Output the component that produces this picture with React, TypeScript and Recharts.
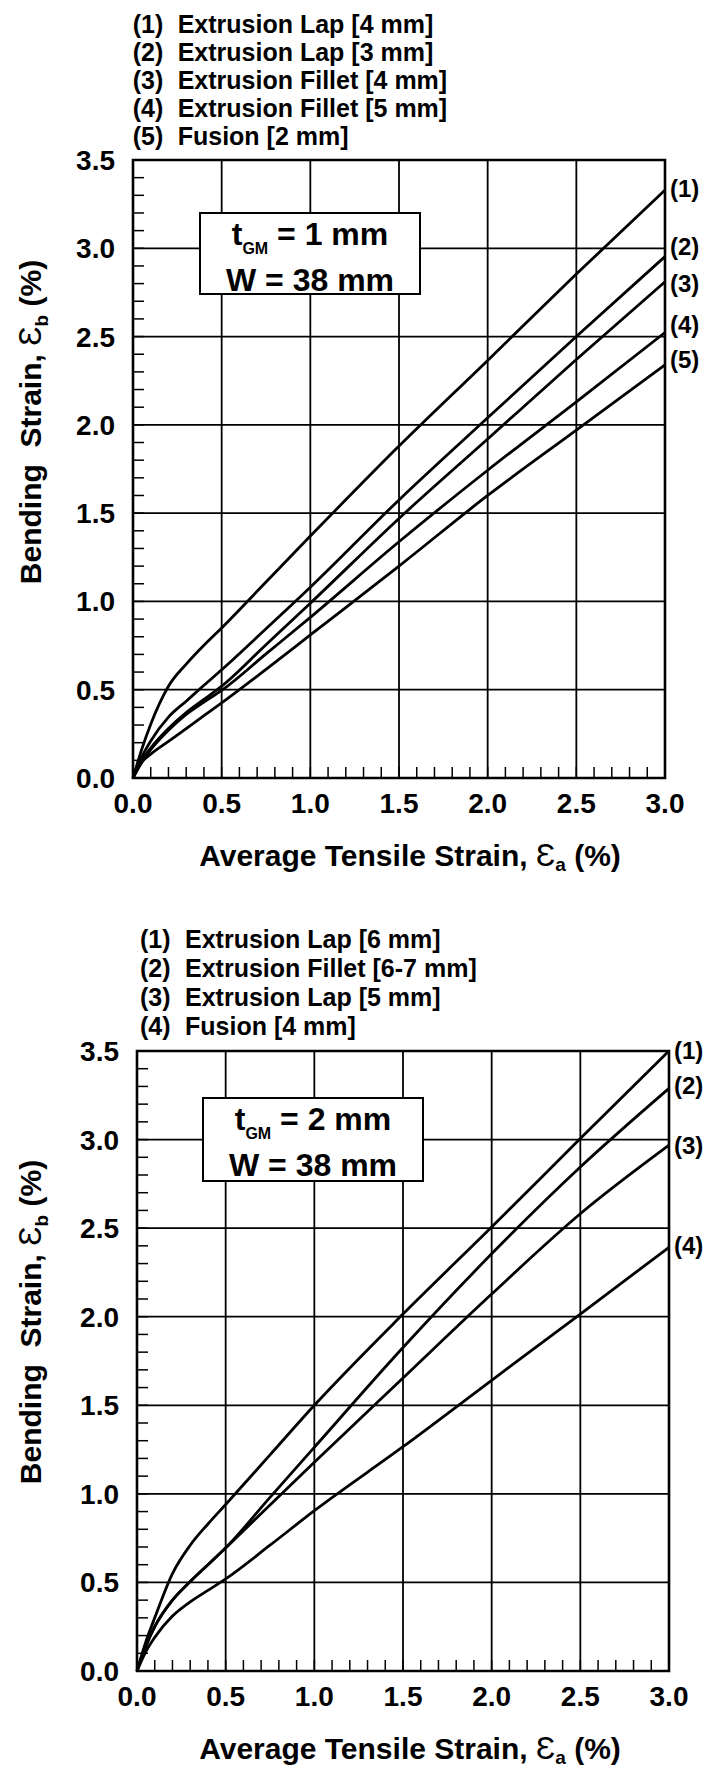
import { CartesianGrid, LabelList, Line, LineChart, ReferenceArea, XAxis, YAxis } from 'recharts'

const FONT = "'Liberation Sans', Arial, Helvetica, sans-serif"

// average tensile strain samples (%), shared by every curve
const STRAIN_A = [0, 0.05, 0.1, 0.2, 0.3, 0.4, 0.5, 0.75, 1.0, 1.5, 2.0, 2.5, 3.0]

// bending strain (%) — 1 mm geomembrane
const LAP_4MM = [0, 0.165, 0.305, 0.52, 0.645, 0.752, 0.85, 1.11, 1.37, 1.88, 2.365, 2.854, 3.33]
const LAP_3MM = [0, 0.12, 0.21, 0.345, 0.435, 0.525, 0.613, 0.845, 1.08, 1.575, 2.04, 2.5, 2.953]
const FILLET_4MM = [0, 0.1, 0.17, 0.28, 0.37, 0.445, 0.52, 0.755, 0.99, 1.47, 1.92, 2.37, 2.81]
const FILLET_5MM = [0, 0.09, 0.16, 0.27, 0.36, 0.43, 0.496, 0.703, 0.91, 1.338, 1.743, 2.13, 2.523]
const FUSION_2MM = [0, 0.09, 0.135, 0.207, 0.28, 0.353, 0.425, 0.615, 0.81, 1.2, 1.6, 1.97, 2.34]

// bending strain (%) — 2 mm geomembrane
const LAP_6MM = [0, 0.165, 0.3, 0.55, 0.71, 0.83, 0.94, 1.22, 1.5, 2.015, 2.506, 3.006, 3.5]
const FILLET_6_7MM = [0, 0.14, 0.25, 0.4, 0.505, 0.6, 0.695, 0.98, 1.263, 1.826, 2.355, 2.845, 3.289]
const LAP_5MM = [0, 0.14, 0.25, 0.4, 0.505, 0.6, 0.695, 0.937, 1.179, 1.654, 2.128, 2.581, 2.968]
const FUSION_4MM = [0, 0.11, 0.19, 0.31, 0.39, 0.455, 0.52, 0.71, 0.905, 1.266, 1.641, 2.015, 2.392]

const X_MAJOR = [0, 0.5, 1, 1.5, 2, 2.5, 3]
const Y_MAJOR = [0, 0.5, 1, 1.5, 2, 2.5, 3, 3.5]
const X_MINOR = Array.from({ length: 31 }, (_, i) => i / 10)
const Y_MINOR = Array.from({ length: 36 }, (_, i) => i / 10)

type Series = { key: string; tag: string; name: string; values: number[]; labelDy: number }

const THIN_SHEET: Series[] = [
  { key: 'lap4', tag: '(1)', name: 'Extrusion Lap [4 mm]', values: LAP_4MM, labelDy: -2 },
  { key: 'lap3', tag: '(2)', name: 'Extrusion Lap [3 mm]', values: LAP_3MM, labelDy: -10 },
  { key: 'fil4', tag: '(3)', name: 'Extrusion Fillet [4 mm]', values: FILLET_4MM, labelDy: 2 },
  { key: 'fil5', tag: '(4)', name: 'Extrusion Fillet [5 mm]', values: FILLET_5MM, labelDy: -8 },
  { key: 'fus2', tag: '(5)', name: 'Fusion [2 mm]', values: FUSION_2MM, labelDy: -5 },
]

const THICK_SHEET: Series[] = [
  { key: 'lap6', tag: '(1)', name: 'Extrusion Lap [6 mm]', values: LAP_6MM, labelDy: -1 },
  { key: 'fil67', tag: '(2)', name: 'Extrusion Fillet [6-7 mm]', values: FILLET_6_7MM, labelDy: -3 },
  { key: 'lap5', tag: '(3)', name: 'Extrusion Lap [5 mm]', values: LAP_5MM, labelDy: 0 },
  { key: 'fus4', tag: '(4)', name: 'Fusion [4 mm]', values: FUSION_4MM, labelDy: -2 },
]

const isMajor = (v: number) => Math.abs(v * 2 - Math.round(v * 2)) < 1e-6

const renderXTick = (p: any) => {
  const v = p.payload.value
  if (!isMajor(v)) return <g />
  return (
    <text x={p.x} y={p.y} dy="0.71em" textAnchor="middle" fontSize={28} fontWeight={700} fontFamily={FONT} fill="#000">
      {v.toFixed(1)}
    </text>
  )
}

const renderYTick = (p: any) => {
  const v = p.payload.value
  if (!isMajor(v)) return <g />
  return (
    <text x={p.x} y={p.y} dy="0.355em" textAnchor="end" fontSize={28} fontWeight={700} fontFamily={FONT} fill="#000">
      {v.toFixed(1)}
    </text>
  )
}

const endLabel = (s: Series) => (p: any) => {
  if (p.index !== STRAIN_A.length - 1) return null
  const x = p.x ?? p.viewBox?.x
  const y = p.y ?? p.viewBox?.y
  return (
    <text x={x + 5} y={y + s.labelDy} dy="0.36em" fontSize={24} fontWeight={700} fontFamily={FONT} fill="#000">
      {s.tag}
    </text>
  )
}

const tickStyle = { stroke: '#000', strokeWidth: 1.5 }

function StrainPlot({ series, height, margin }: { series: Series[]; height: number; margin: any }) {
  const data = STRAIN_A.map((x, i) => {
    const row: Record<string, number> = { x }
    series.forEach((s) => {
      row[s.key] = s.values[i]
    })
    return row
  })

  return (
    <LineChart width={712} height={height} data={data} margin={margin}>
      <CartesianGrid horizontalValues={Y_MAJOR} verticalValues={X_MAJOR} stroke="#000" strokeWidth={1.8} />
      <XAxis
        type="number"
        dataKey="x"
        domain={[0, 3]}
        ticks={X_MINOR}
        interval={0}
        height={40}
        tickSize={-11}
        tickMargin={26}
        axisLine={false}
        tickLine={tickStyle}
        tick={renderXTick}
      />
      <YAxis
        type="number"
        domain={[0, 3.5]}
        ticks={Y_MINOR}
        interval={0}
        width={60}
        tickSize={-11}
        tickMargin={29}
        axisLine={false}
        tickLine={tickStyle}
        tick={renderYTick}
      />
      <YAxis
        yAxisId="right"
        orientation="right"
        type="number"
        domain={[0, 3.5]}
        ticks={Y_MINOR}
        interval={0}
        width={10}
        tickSize={-11}
        axisLine={false}
        tickLine={tickStyle}
        tick={false}
      />
      <ReferenceArea x1={0} x2={3} y1={0} y2={3.5} fill="none" fillOpacity={0} stroke="#000" strokeWidth={2.6} />
      {series.map((s) => (
        <Line
          key={s.key}
          dataKey={s.key}
          type="monotone"
          stroke="#000"
          strokeWidth={2.8}
          dot={false}
          isAnimationActive={false}
        >
          <LabelList dataKey={s.key} content={endLabel(s)} />
        </Line>
      ))}
    </LineChart>
  )
}

function SeriesKey({ series, left, top, rowHeight }: { series: Series[]; left: number; top: number; rowHeight: number }) {
  return (
    <div
      style={{
        position: 'absolute',
        left,
        top,
        fontSize: 25,
        fontWeight: 700,
        lineHeight: `${rowHeight}px`,
        whiteSpace: 'nowrap',
      }}
    >
      {series.map((s) => (
        <div key={s.key}>
          <span style={{ display: 'inline-block', width: 45 }}>{s.tag}</span>
          {s.name}
        </div>
      ))}
    </div>
  )
}

function InfoBox({ left, top, height, thickness }: { left: number; top: number; height: number; thickness: number }) {
  return (
    <div
      style={{
        position: 'absolute',
        left,
        top,
        width: 222,
        height,
        boxSizing: 'border-box',
        border: '2.8px solid #000',
        background: '#fff',
        textAlign: 'center',
        fontSize: 32,
        fontWeight: 700,
        lineHeight: '40px',
        whiteSpace: 'nowrap',
      }}
    >
      <div>
        t<span style={{ fontSize: 16, position: 'relative', top: 9 }}>GM</span> = {thickness} mm
      </div>
      <div>W = 38 mm</div>
    </div>
  )
}

function StrainXTitle({ top }: { top: number }) {
  return (
    <div
      style={{
        position: 'absolute',
        left: 0,
        width: 820,
        top,
        textAlign: 'center',
        fontSize: 30,
        fontWeight: 700,
        lineHeight: '30px',
        whiteSpace: 'nowrap',
      }}
    >
      Average Tensile Strain, <span style={{ fontWeight: 400, fontSize: 32 }}>Ɛ</span>
      <span style={{ fontSize: 19, position: 'relative', top: 5 }}>a</span> (%)
    </div>
  )
}

function StrainYTitle({ centerY }: { centerY: number }) {
  return (
    <div
      style={{
        position: 'absolute',
        left: 30 - 210,
        top: centerY - 15,
        width: 420,
        height: 30,
        transform: 'rotate(-90deg)',
        textAlign: 'center',
        fontSize: 30,
        fontWeight: 700,
        lineHeight: '30px',
        whiteSpace: 'pre',
      }}
    >
      Bending  Strain, <span style={{ fontWeight: 400, fontSize: 32 }}>Ɛ</span>
      <span style={{ fontSize: 19, position: 'relative', top: 7 }}>b</span> (%)
    </div>
  )
}

export default function App() {
  return (
    <div
      style={{
        position: 'absolute',
        left: 0,
        top: 0,
        width: 712,
        height: 1773,
        overflow: 'hidden',
        background: '#fff',
        color: '#000',
        fontFamily: FONT,
      }}
    >
      {/* t_GM = 1 mm */}
      <SeriesKey series={THIN_SHEET} left={132.7} top={9.5} rowHeight={28.2} />
      <div style={{ position: 'absolute', left: 0, top: 0 }}>
        <StrainPlot series={THIN_SHEET} height={900} margin={{ top: 160, right: 37, bottom: 82, left: 73 }} />
      </div>
      <InfoBox left={199} top={211.5} height={83} thickness={1} />
      <StrainYTitle centerY={422} />
      <StrainXTitle top={839.6} />

      {/* t_GM = 2 mm */}
      <SeriesKey series={THICK_SHEET} left={140} top={924.7} rowHeight={29.2} />
      <div style={{ position: 'absolute', left: 0, top: 900 }}>
        <StrainPlot series={THICK_SHEET} height={873} margin={{ top: 151, right: 33, bottom: 62, left: 77 }} />
      </div>
      <InfoBox left={202} top={1097} height={84.5} thickness={2} />
      <StrainYTitle centerY={1322} />
      <StrainXTitle top={1733} />
    </div>
  )
}
